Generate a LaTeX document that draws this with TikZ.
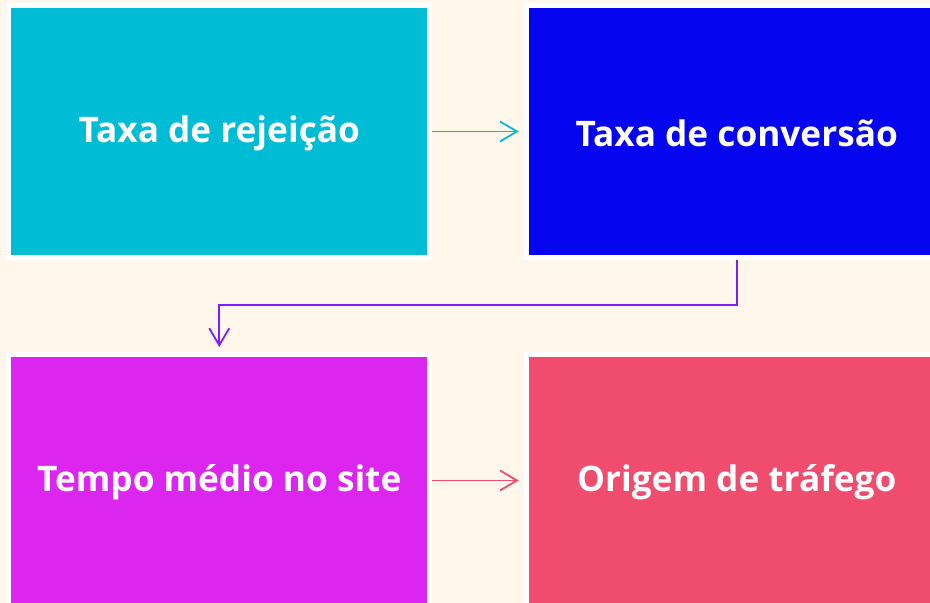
\documentclass[tikz,border=0pt]{standalone}
\usepackage{fontspec}
\setmainfont{Open Sans}
\usetikzlibrary{arrows.meta}
\definecolor{bgcream}{RGB}{255,247,235}
\definecolor{cyanbox}{RGB}{0,188,212}
\definecolor{bluebox}{RGB}{5,5,240}
\definecolor{magbox}{RGB}{220,38,240}
\definecolor{pinkbox}{RGB}{240,76,110}
\definecolor{purplearr}{RGB}{126,30,255}
\tikzstyle{card}=[rectangle,draw=white,line width=5pt,minimum width=421pt,minimum height=252pt,inner sep=0pt,text=white,font=\bfseries\fontsize{35.2}{40}\selectfont]
\tikzstyle{link}=[line width=1.8pt,-{Straight Barb[length=17pt,width=20pt]},shorten >=5pt]

\begin{document}
\begin{tikzpicture}[x=1pt,y=-1pt]
\fill[bgcream] (0,0) rectangle (930,603);
\useasboundingbox (0,0) rectangle (930,603);

\node (rej) at (219.25,131.5) [card, fill=cyanbox] {};
\node (conv) at (736.75,131.5) [card, fill=bluebox] {};
\node (tempo) at (219.25,480.5) [card, fill=magbox] {};
\node (orig) at (736.75,480.5) [card, fill=pinkbox] {};

% labels, a touch below the centre
\node (rejtxt) at ([yshift=-1.5pt]rej.center) [card, draw=none] {Taxa de rejeição};
\node (convtxt) at ([yshift=-1.5pt]conv.center) [card, draw=none] {Taxa de conversão};
\node (tempotxt) at ([yshift=-1.5pt]tempo.center) [card, draw=none] {Tempo médio no site};
\node (origtxt) at ([yshift=-1.5pt]orig.center) [card, draw=none] {Origem de tráfego};

\draw (rej.east) -- (conv.west) [link, draw=cyanbox];
\draw (conv.south) -- ++(0,45) -| (tempo.north) [link, draw=purplearr];
\draw (tempo.east) -- (orig.west) [link, draw=pinkbox];

\end{tikzpicture}
\end{document}
